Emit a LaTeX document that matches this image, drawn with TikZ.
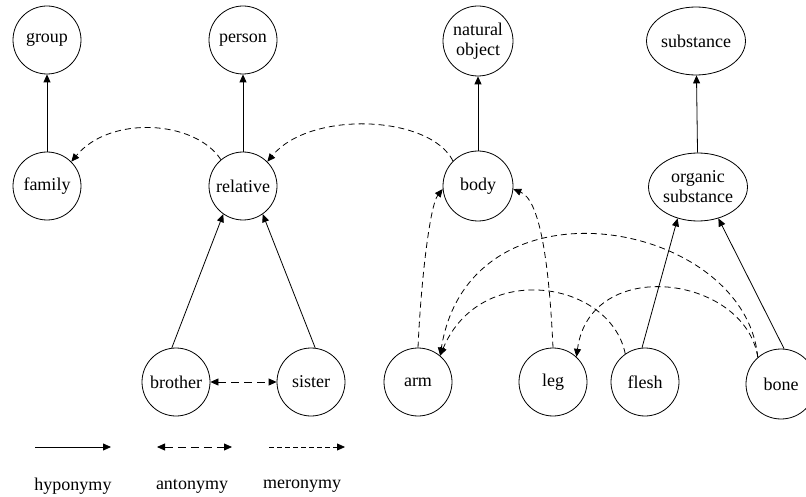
\documentclass[tikz,border=0pt]{standalone}
\usepackage{fontspec}
\setmainfont{Liberation Serif}
\newfontfamily\tms{Liberation Serif}
\usetikzlibrary{arrows.meta,shapes.geometric}
\begin{document}
\begin{tikzpicture}[x=1pt,y=-1pt,
  txt/.style={font=\tms\fontsize{18}{20}\selectfont},
  nd/.style={circle,draw,line width=0.8pt,minimum size=68pt,inner sep=0pt,align=center,txt},
  el/.style={ellipse,draw,line width=0.8pt,minimum height=68pt,inner sep=0pt,align=center,txt},
  tip/.style={-{Triangle[length=8pt,width=7pt]}},
  hyp/.style={line width=0.8pt,tip},
  mer/.style={line width=0.8pt,dash pattern=on 6pt off 4pt,tip},
  legmer/.style={line width=0.8pt,dash pattern=on 5pt off 3pt,tip},
  ant/.style={line width=0.8pt,dash pattern=on 8pt off 5pt,{Triangle[length=8pt,width=7pt]}-{Triangle[length=8pt,width=7pt]}}]
\useasboundingbox (0,0) rectangle (806,497);
\fill[white] (0,0) rectangle (806,497);
% nodes
\node[nd] (group) at (47,40) {group};
\node[nd] (person) at (243,40) {person};
\node[nd,minimum size=70pt] (natobj) at (478,41) {natural\\object};
\node[el,minimum width=84pt] (subst) at (696,41) {substance};
\node[nd] (family) at (47,186) {family};
\node[nd] (relative) at (243,186) {relative};
\node[nd,minimum size=70pt] (body) at (478,186) {body};
\node[el,minimum width=92pt] (orgsub) at (698,187) {organic\\substance};
\node[nd] (brother) at (176,382) {brother};
\node[nd] (sister) at (311,382) {sister};
\node[nd] (arm) at (418,382) {arm};
\node[nd] (leg) at (553,382) {leg};
\node[nd] (flesh) at (645,382) {flesh};
\node[nd,minimum size=70pt] (bone) at (781,384) {bone};
% hyponymy
\draw[hyp] (family) -- (group);
\draw[hyp] (relative) -- (person);
\draw[hyp] (body) -- (natobj);
\draw[hyp] (orgsub) -- (subst);
\draw[hyp] (brother.97) -- (relative.235);
\draw[hyp] (sister.83) -- (relative.305);
\draw[hyp] (flesh.95) -- (orgsub.237);
\draw[hyp] (bone.85) -- (orgsub.303);
% antonymy
\draw[ant] (brother) -- (sister);
% meronymy
\draw[mer] (relative.130) .. controls (195,120) and (110,115) .. (family.45);
\draw[mer] (body.135) .. controls (430,115) and (310,110) .. (relative.45);
\draw[mer] (arm.north) .. controls (421,280) and (430,205) .. (body.185);
\draw[mer] (leg.north) .. controls (549,262) and (540,200) .. (body.355);
\draw[mer] (flesh.125) .. controls (610,280) and (480,260) .. (arm.50);
\draw[mer] (bone.131) .. controls (745,220) and (470,170) .. (arm.50);
\draw[mer] (bone.131) .. controls (745,275) and (590,255) .. (leg.47);
% legend
\coordinate (h1) at (35,447); \coordinate (h2) at (111,447);
\coordinate (a1) at (157,447); \coordinate (a2) at (232,447);
\coordinate (m1) at (269,447); \coordinate (m2) at (345,447);
\draw[hyp] (h1) -- (h2);
\draw[ant] (a1) -- (a2);
\draw[legmer] (m1) -- (m2);
\node[txt] (lh) at (73,486) {hyponymy};
\node[txt] (la) at (192,486) {antonymy};
\node[txt] (lm) at (302,486) {meronymy};
\end{tikzpicture}
\end{document}
